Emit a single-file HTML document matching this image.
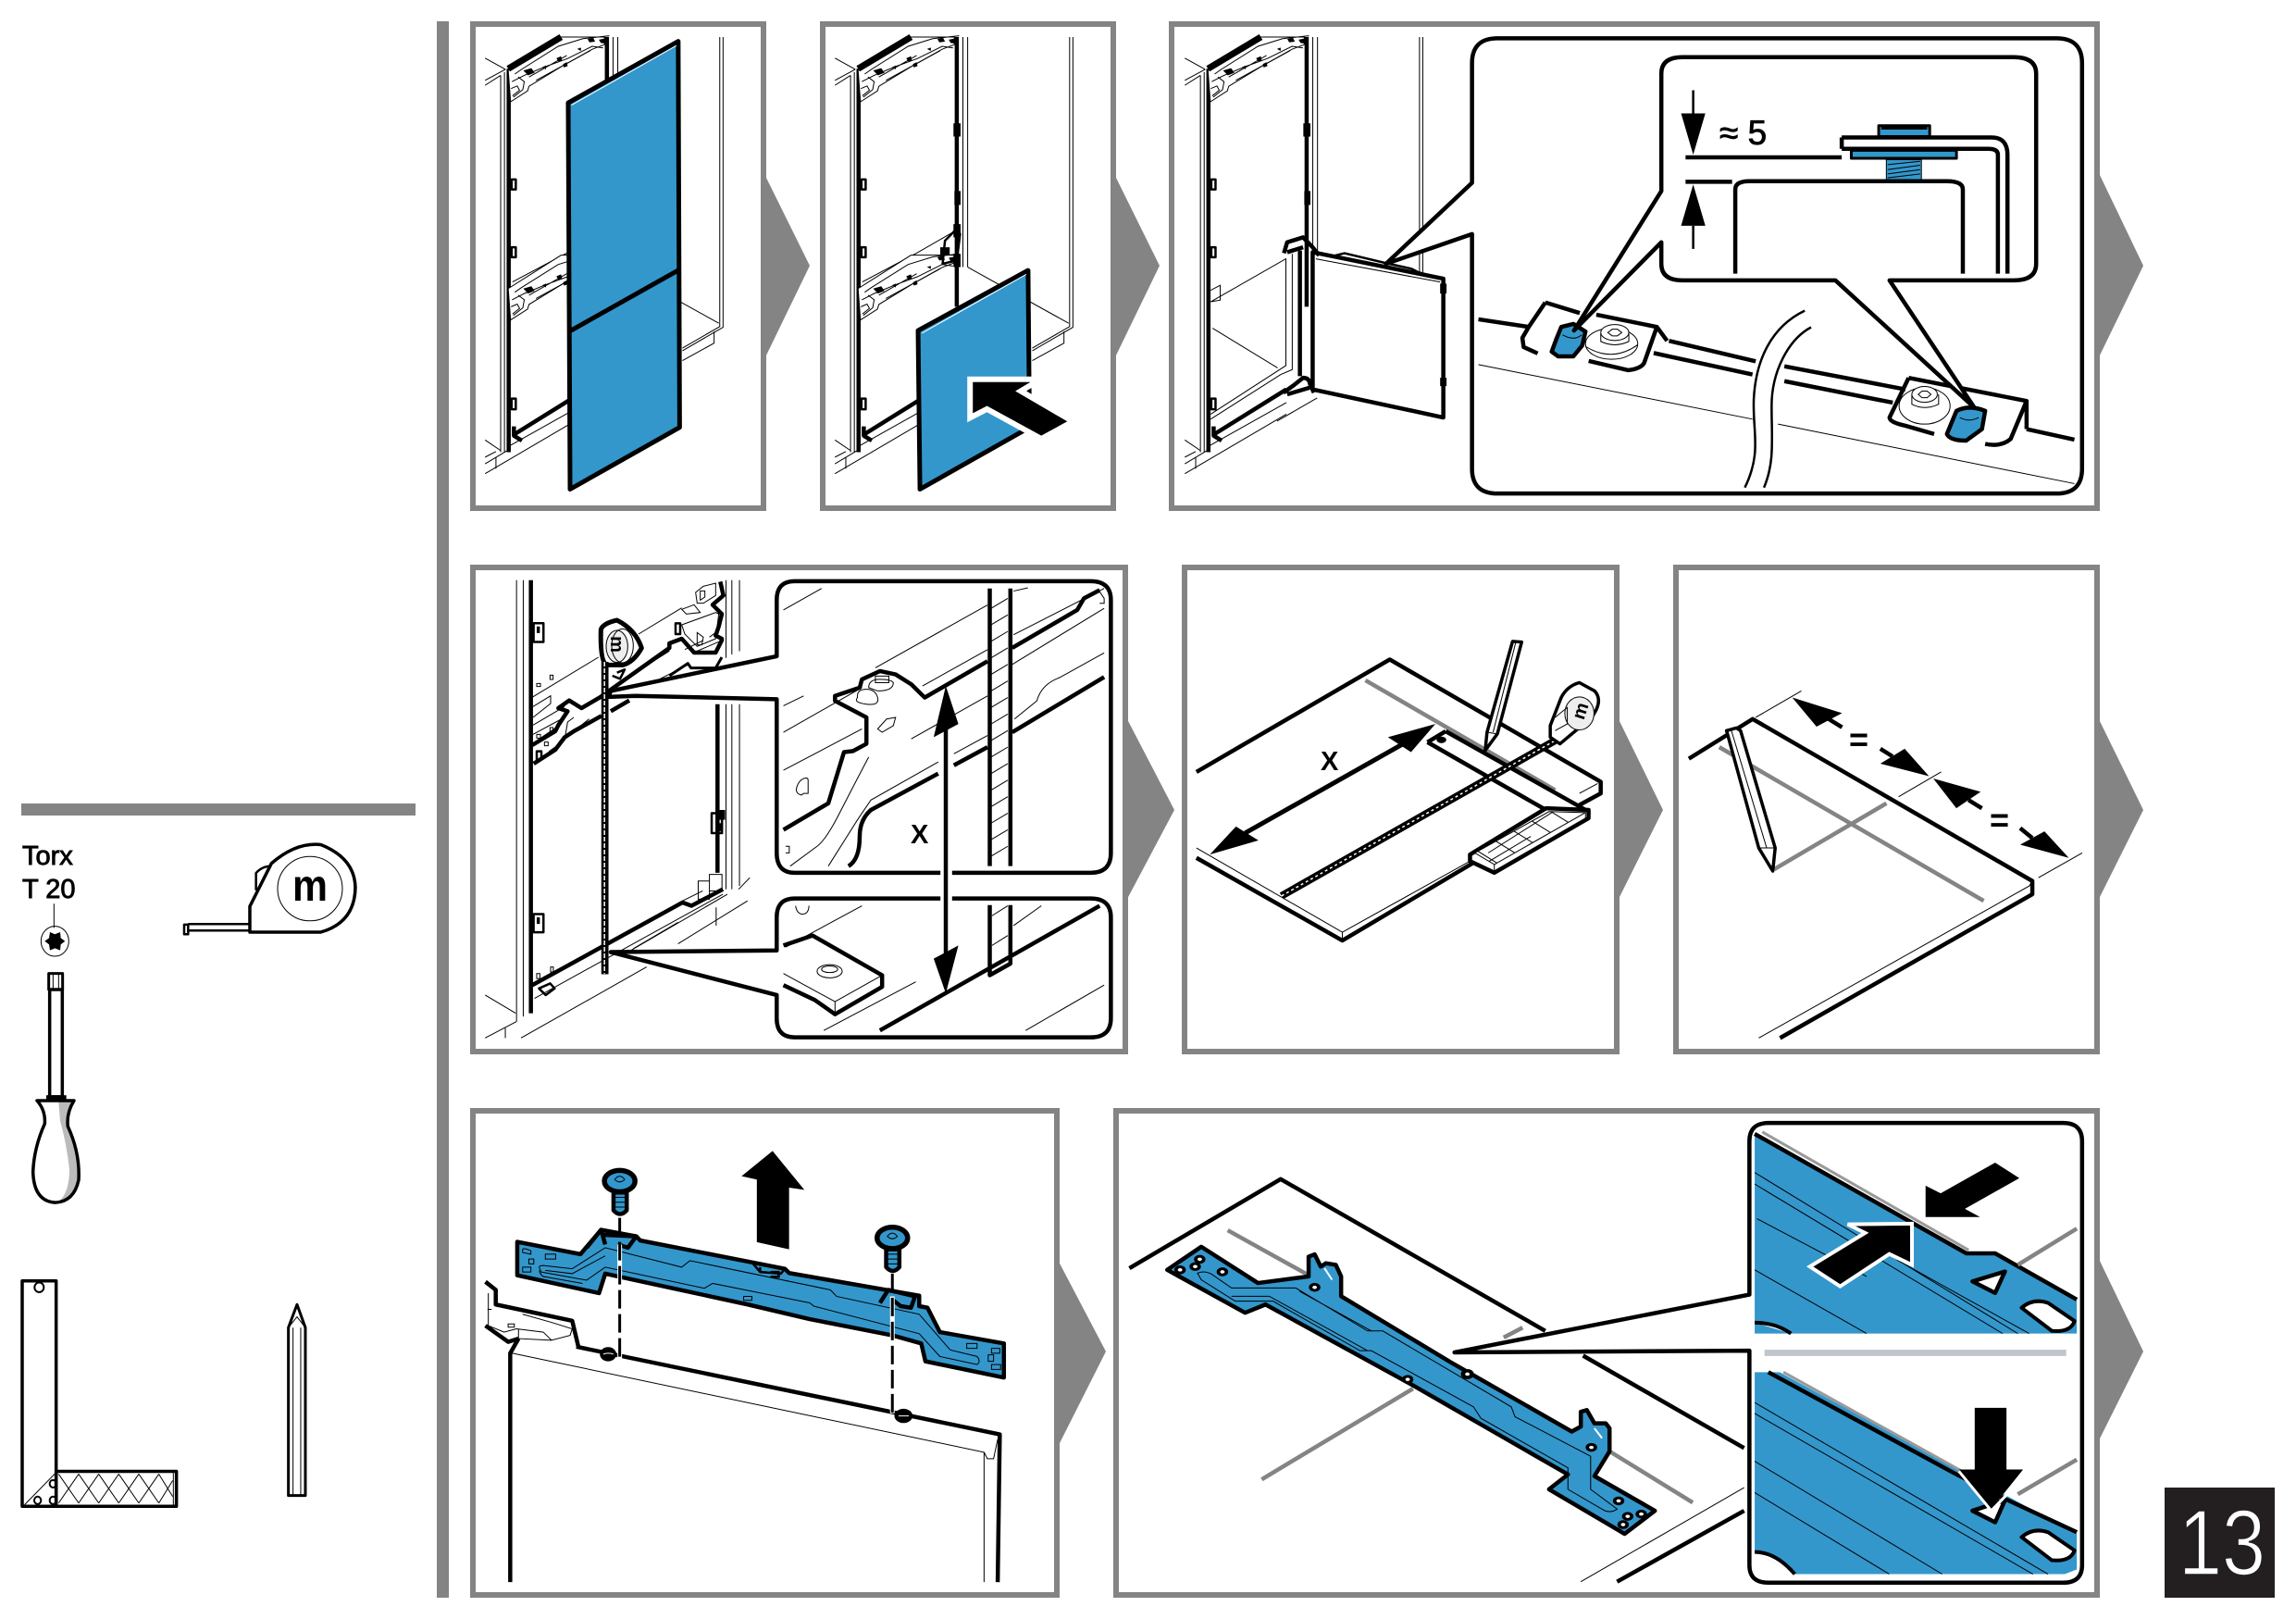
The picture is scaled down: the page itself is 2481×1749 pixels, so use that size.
<!DOCTYPE html>
<html><head><meta charset="utf-8"><style>
html,body{margin:0;padding:0;background:#fff}
svg{display:block}
svg *{vector-effect:non-scaling-stroke}
.k{fill:none;stroke:#000;stroke-width:4.5;stroke-linejoin:round}
.w{fill:#fff;stroke:#000;stroke-width:4.5;stroke-linejoin:round}
.m{fill:none;stroke:#000;stroke-width:2.5;stroke-linejoin:round}
.n{fill:none;stroke:#000;stroke-width:1}
.nw{fill:#fff;stroke:#000;stroke-width:1}
.f{fill:#000}
.b{fill:#3397cc;stroke:#000;stroke-width:4.5;stroke-linejoin:round}
.bn{fill:#3397cc}
.g{fill:none;stroke:#848484;stroke-width:4.5}
.p{fill:#fff;stroke:#848484;stroke-width:6}
.c{fill:#848484}
text{font-family:"Liberation Sans",sans-serif;fill:#000}
</style></head><body>
<svg width="2481" height="1749" viewBox="0 0 2481 1749" xmlns="http://www.w3.org/2000/svg">
<rect width="2481" height="1749" fill="#fff"/>
<rect x="472" y="23" width="13" height="1703" class="c"/>
<rect x="23" y="868" width="426" height="13" class="c"/>

<!-- chevrons -->
<polygon class="c" points="826,188 875,287 826,388"/>
<polygon class="c" points="1204,188 1253,287 1204,388"/>
<polygon class="c" points="2267,185 2316,287 2267,388"/>
<polygon class="c" points="1217,775 1269,875 1217,973"/>
<polygon class="c" points="1748,775 1797,875 1748,973"/>
<polygon class="c" points="2267,775 2316,875 2267,973"/>
<polygon class="c" points="1143,1361 1195,1460 1143,1563"/>
<polygon class="c" points="2267,1358 2316,1460 2267,1558"/>

<!-- panels -->
<rect class="p" x="511" y="26" width="314" height="523"/>
<rect class="p" x="889" y="26" width="314" height="523"/>
<rect class="p" x="1266" y="26" width="1000" height="523"/>
<rect class="p" x="511" y="613" width="705" height="523"/>
<rect class="p" x="1280" y="613" width="467" height="523"/>
<rect class="p" x="1811" y="613" width="455" height="523"/>
<rect class="p" x="511" y="1200" width="631" height="523"/>
<rect class="p" x="1206" y="1200" width="1060" height="523"/>

<!-- panels 1,2,3 fridge, coordinates of zoom 2 -->
<g transform="translate(490,10) scale(.5102,.3571)">
<defs>
<g id="rs">
 <path class="nw" d="M121,280L157,247L160,233L229,173L294,121L320,107V84H228L116,185Z"/>
 <path class="n" d="M130,196L144,182L222,112L274,89L330,80M124,219L150,200L196,173L242,149L294,112L317,117M127,266L147,243L150,219L137,205M122,240L135,232L140,245L125,262M160,205L240,140M175,215L290,125"/>
 <path class="f" d="M148,185L165,178L172,192L158,200ZM218,148L228,142L230,155L222,158ZM232,166L240,160L242,172L234,176ZM188,175L196,170L196,182ZM262,120L270,116L270,126ZM284,90L296,86L300,98L288,100ZM308,92L322,88V104L312,102Z"/>
</g>
<g id="fr">
 <path class="n" d="M100,200V1340M108,190V1340M67,230L100,200M67,215L110,182M67,148L110,182M67,1303L100,1335M67,1375L120,1330M67,1405L282,1225M120,1320L282,1190M90,1355V1390M67,1355L90,1338"/>
 <path class="n" d="M338,84V780M348,84V780M564,84V960L485,1025M571,84V962L485,1033M348,780L562,950M552,975V1010L485,1063"/>
 <path class="k" d="M117,180V1340M325,84V900M130,1285L282,1150"/>
 <use href="#rs"/>
 <path d="M116,180L228,84" fill="none" stroke="#000" stroke-width="7"/>
 <path class="m" d="M123,515H132V545H123ZM123,720H132V750H123ZM123,1178H132V1210H123Z"/>
 <path class="f" d="M318,345H333V385H318ZM320,550H333V592H320Z"/>
 <path class="k" d="M128,1262V1290L145,1305"/>
</g>
<g id="rl">
 <path class="n" d="M125,825L237,740L320,672"/>
 <use href="#rs" transform="translate(0,660)"/>
 <path class="m" d="M300,700Q322,670 325,660L332,680L325,760L295,770Z"/>
 <path class="f" d="M318,650H333V690H318ZM290,720H310V745H290ZM318,740H333V780H318Z"/>
</g>
</defs>
<use href="#fr"/><use href="#rl"/>
<use href="#fr" transform="translate(741,0)"/><use href="#rl" transform="translate(741,0)"/>
<use href="#fr" transform="translate(1482,0)"/>
<!-- panel 1 doors -->
<polygon class="b" points="243,283 476,97 479,1265 247,1452" style="stroke-width:5"/>
<path class="k" d="M245,975L478,788" style="stroke-width:5"/>
<path d="M250,290L472,110" fill="none" stroke="#fff" stroke-width="1"/>
<!-- panel 2 door -->
<polygon class="b" points="984,972 1217,790 1220,1265 988,1452" style="stroke-width:5"/>
<path d="M992,980L1213,802" fill="none" stroke="#fff" stroke-width="1"/>
<polygon points="1100,1128 1100,1222 1130,1200 1245,1290 1300,1247 1190,1155 1222,1128" fill="#fff" stroke="#fff" stroke-width="12"/>
<rect x="1225" y="1100" width="90" height="200" fill="#fff"/>
<polygon class="f" points="1100,1128 1100,1222 1130,1200 1245,1290 1300,1247 1190,1155 1222,1128"/>
</g>

<!-- panel 3 door and insets, zoom 3 coordinates -->
<g transform="translate(1260,10) scale(.6888,.3571)">
<path class="n" d="M70,885L188,755V1078L70,1225M73,965L175,1085M198,740V1090L180,1105L70,1240M174,1246L237,1176M70,850L85,835V880L70,885"/>
<polygon class="w" points="230,735 435,815 435,1235 230,1150"/>
<path class="n" d="M235,755L430,825"/>
<path class="k" d="M210,730V1110"/>
<path class="k" d="M185,738L190,705L215,690L230,720L240,745M190,735L215,720M184,1160L200,1138L215,1115Q225,1115 226,1135L232,1160M190,1165L225,1145"/>
<path class="f" d="M430,830H440V860H430ZM430,1115H440V1140H430Z"/>
<path class="m" d="M265,745L280,738L345,768L385,785L395,795L432,815"/>
<!-- main inset -->
<path class="w" d="M480,525L345,770L480,680V1390Q480,1465 520,1465H1397Q1437,1465 1437,1390V163Q1437,88 1397,88H520Q480,88 480,163Z"/>
<!-- rails -->
<path class="k" d="M490,938L569,961M789,1003L925,1065M970,1080L1160,1150M1350,1270L1425,1302M765,1040L920,1105M970,1125L1140,1190"/>
<path class="n" d="M490,1075L920,1240M960,1255L1425,1435"/>
<path class="m" d="M1002,912C950,960 925,1060 922,1180C920,1280 935,1340 908,1447M1012,962C975,1000 950,1100 950,1200C950,1300 955,1370 938,1447"/>
<!-- left clip -->
<path class="k" d="M595,887L569,961L559,994L561,1022L583,1041M595,887L649,919M675,924L770,961L786,1003M770,961L750,1070Q745,1087 725,1092L663,1064"/>
<ellipse class="nw" cx="699" cy="1012" rx="41" ry="47"/>
<path class="n" d="M658,1020Q700,1070 740,1015M682,980V1005Q704,1025 726,1005V980"/>
<ellipse class="nw" cx="704" cy="978" rx="22" ry="24"/>
<polygon class="nw" points="693,978 700,968 708,968 715,978 708,988 700,988"/>
<path class="b" d="M612,999L620,961L639,952L658,975L653,1017L639,1050L615,1050L605,1036Z"/>
<path class="n" d="M622,985Q640,1005 652,985"/>
<!-- right clip -->
<path class="k" d="M1165,1115L1135,1235Q1135,1250 1160,1260L1205,1285M1165,1115L1350,1185L1325,1300Q1310,1325 1285,1315M1350,1185L1350,1270"/>
<ellipse class="nw" cx="1190" cy="1200" rx="40" ry="55"/>
<path class="n" d="M1170,1165V1195Q1190,1215 1212,1195V1165"/>
<ellipse class="nw" cx="1190" cy="1165" rx="20" ry="24"/>
<polygon class="nw" points="1180,1165 1186,1155 1194,1155 1200,1165 1194,1175 1186,1175"/>
<path class="b" d="M1240,1215Q1260,1195 1285,1215L1280,1270L1255,1305Q1230,1305 1225,1285Z"/>
<path class="n" d="M1245,1235Q1260,1250 1275,1235"/>
<!-- small inset -->
<path class="w" d="M777,550L640,972L777,705V770Q777,820 810,820H1050L1268,1205L1135,820H1330Q1365,820 1365,770V195Q1365,145 1330,145H810Q777,145 777,195Z"/>
<path class="m" d="M827,245V320M827,655V725"/>
<polygon class="f" points="808,315 846,315 827,440"/>
<polygon class="f" points="808,655 846,655 827,530"/>
<path class="k" d="M815,448H1060M815,522H888"/>
<path class="b" d="M1118,385V352H1198V385Z" style="stroke-width:3"/>
<rect x="1122" y="352" width="72" height="12" fill="#000"/>
<path class="k" d="M1060,388H1295Q1320,388 1320,440V800M1060,422H1290Q1305,422 1305,440V800M1060,388V422"/>
<rect class="b" x="1075" y="425" width="165" height="26" style="stroke-width:3"/>
<rect x="1075" y="425" width="165" height="6" fill="#000"/>
<rect class="bn" x="1130" y="455" width="55" height="62" stroke="#000" stroke-width="1"/>
<path class="n" d="M1132,470L1183,460M1132,485L1183,472M1132,498L1183,485M1132,510L1183,498"/>
<path class="k" d="M893,800V545Q893,520 915,520H1225Q1250,520 1250,545V800"/>
</g>
<text x="1858" y="156" font-size="37" stroke="#000" stroke-width=".8">≈ 5</text>

<!-- panel 4, zoom 4 coordinates -->
<g transform="translate(500,600) scale(.4847,.3571)">
<path class="n" d="M120,75V1410M135,75V1395M587,75V310M600,75V300M617,75V290M587,450V1010M600,450V1010M617,450V1000"/>
<path class="k" d="M152,75V1385M568,450V960"/>
<path class="m" d="M158,1085H180V1140H158ZM555,780H578V840H555ZM158,205H180V262H158Z"/>
<path class="f" d="M165,215H172V235H165ZM165,1095H172V1115H165ZM565,770H585V800H565ZM565,810H580V835H565Z"/>
<path class="k" d="M155,1300L490,1050L510,1060L580,1010"/>
<path class="n" d="M525,985H550V1040H525ZM550,965H578V1015H550ZM490,1045L535,1015"/>
<path class="n" d="M160,1340L580,1025M130,1460L410,1245M50,1330L118,1385M50,1460L120,1410M95,1430V1460M380,1190L480,1110M480,1175L635,1045M565,1065V1120M615,1010L640,975M375,1195L590,1025M165,1265H172V1280H165ZM196,1245H202V1260H196Z"/>
<path class="m" d="M170,1310L195,1295L205,1310L185,1330Z"/>
</g>
<!-- P4 detail, true 3x coords -->
<g transform="translate(560,620) scale(.33333)">
<path class="n" d="M45,400L260,270M390,195L530,110M48,430L105,395V420L48,465M48,520L150,465M60,540L135,490M48,490L150,430M100,575L150,540L160,480L180,465M180,510L230,470M300,370L490,250"/>
<path class="n" d="M60,355H72V365H60ZM103,328H113V342H103ZM60,520H72V532H60ZM103,498H113V512H103ZM85,545H97V557H85Z"/>
<path class="n" d="M575,60L600,40L640,30V70L600,95H580ZM590,55V85L605,75V55ZM530,115L570,100L590,125L545,130ZM530,165L640,125L650,130L640,210L580,235L540,195ZM580,190V230H595L600,205ZM620,205L640,190V210M540,245L600,215M580,250L650,220"/>
<path class="m" d="M510,160H525V195H510Z"/>
<path class="k" d="M45,555L120,510L130,490L160,445L130,435L165,410L205,435L265,400L490,240V225L530,210L570,255L640,255L660,215V210L640,200L650,170L660,130L630,100L665,70L655,25"/>
<path class="k" d="M50,615L120,570L150,530L180,510L270,460M300,445L360,410"/>
<path class="k" d="M490,330L550,290L560,305L640,305L660,270" style="stroke-width:3"/>
<path class="m" d="M60,575H75V600L60,610Z"/>
<path class="n" d="M460,340L550,295"/>
<path class="m" d="M320,320L345,310L330,340L305,330"/>
<path class="k" d="M268,180Q275,160 320,150Q380,180 400,240Q375,285 340,295H285Q265,280 268,180Z" style="stroke-width:5;fill:#fff"/>
<ellipse cx="320" cy="235" rx="35" ry="52" fill="#eee" stroke="#000" stroke-width="1"/>
<ellipse cx="338" cy="233" rx="35" ry="55" fill="none" stroke="#000" stroke-width="1"/>
<rect x="268" y="295" width="27" height="2560" fill="#000" style="display:none"/>
</g>
<g transform="translate(500,600) scale(.4847,.3571)">
<rect x="309" y="322" width="16" height="945" fill="#000"/>
<path d="M316,322V1265" fill="none" stroke="#fff" stroke-width="1.5" stroke-dasharray="5 2"/>
<!-- upper inset -->
<path class="w" d="M700,305L330,410L325,428L385,425L700,435V900Q700,960 740,960H1400Q1445,960 1445,900V135Q1445,78 1400,78H740Q700,78 700,135Z"/>
<path class="n" d="M715,165L800,100M715,455L760,425M1025,395L1170,285M1228,240L1430,100M715,535L890,400M715,650L890,525M905,610Q870,700 840,780T790,880L730,940M815,940L880,800L910,740L1060,625M1230,495L1280,440Q1290,390 1330,370L1430,295M1225,330L1430,160M920,340L1170,150M1228,108L1260,98M1095,600L1170,545M1000,555L1170,425M760,720H770V680Q770,670 760,675T745,700T755,725ZM925,525L945,495L965,490L960,515L935,535ZM720,880H728V900H720M1420,110L1430,130V145L1420,145"/>
<path class="k" d="M715,830L815,750L850,595L870,592L900,570V490L830,440V425L885,400L890,375L930,350L965,360L1000,390L1030,430L1170,320M1225,280L1370,165L1385,130L1420,105M860,940Q885,920 885,850Q885,800 910,770L1060,660M1095,635L1170,580M1225,535L1430,368"/>
<path class="n" d="M905,400Q905,375 930,375T960,385Q960,410 925,410ZM880,425Q880,405 900,405T925,430T900,450T880,430ZM920,365H950V385H920Z"/>
<path class="k" d="M1175,100V940M1221,100V940"/>
<path class="n" d="M1178,160L1215,130M1178,210L1215,180M1178,260L1215,230M1178,310L1215,280M1178,360L1215,330M1178,410L1215,380M1178,460L1215,430M1178,510L1215,480M1178,560L1215,530M1178,610L1215,580M1178,660L1215,630M1178,710L1215,680M1178,760L1215,730M1178,810L1215,780M1178,860L1215,830M1178,910L1215,880"/>
<!-- lower inset -->
<path class="w" d="M700,1195L330,1200L700,1330V1400Q700,1458 740,1458H1400Q1445,1458 1445,1400V1095Q1445,1038 1400,1038H740Q700,1038 700,1095Z"/>
<path class="k" d="M1175,1058V1270L1221,1235V1058M930,1437L1420,1060M715,1180L780,1150L935,1270V1305L830,1388L785,1345L715,1300"/>
<path class="n" d="M715,1265L830,1350L935,1270M830,1350V1388M720,1185L890,1060M805,1437L1010,1290M1255,1437L1430,1300M1180,1090L1215,1060M1180,1180L1215,1150M1228,1120L1290,1060M742,1060Q745,1085 758,1085T772,1060"/>
<ellipse class="n" cx="818" cy="1258" rx="28" ry="20"/>
<ellipse class="n" cx="818" cy="1252" rx="18" ry="10"/>
<!-- arrow X -->
<rect x="1065" y="930" width="26" height="60" fill="#fff"/>
<rect x="1065" y="1020" width="26" height="40" fill="#fff"/>
<path class="k" d="M1077,520V1220"/>
<polygon class="f" points="1050,550 1105,510 1077,395"/>
<polygon class="f" points="1050,1220 1105,1180 1077,1325"/>
</g>
<text x="984" y="911" font-size="29" font-weight="bold">X</text>
<text font-size="20" font-weight="bold" text-anchor="middle" transform="translate(660,696) rotate(90)">m</text>

<!-- panels 5,6 zoom 5 coordinates -->
<g transform="translate(1260,600) scale(.6569,.3571)">
<defs><clipPath id="hc"><polygon points="508,900 630,775 690,778 540,935"/></clipPath></defs>
<path class="k" d="M50,655L368,315L715,685V720L680,755M50,915L290,1165L510,925"/>
<path class="n" d="M50,885L290,1140L500,925M290,1140V1165M680,720L710,690"/>
<path class="g" d="M328,378L640,710"/>
<path class="k" d="M430,565L625,770M430,565L460,532M460,532L690,770"/>
<ellipse cx="453" cy="558" rx="8" ry="10" fill="#000"/>
<path class="k" d="M130,840L390,570" style="stroke-width:5"/>
<polygon class="f" points="443,510 365,550 403,595"/>
<polygon class="f" points="72,905 115,820 152,862"/>
<!-- pencil -->
<polygon class="w" points="570,260 585,262 545,540 525,590 528,535" style="stroke-width:3.5"/>
<path class="n" d="M528,535L545,540M575,265L538,535"/>
<!-- tape -->
<path d="M190,1030L640,560" fill="none" stroke="#000" stroke-width="8"/>
<path d="M190,1030L640,560" fill="none" stroke="#fff" stroke-width="1.5" stroke-dasharray="3 3"/>
<path class="w" d="M632,525V550L648,570L700,490Q720,440 705,410L680,385Q660,395 650,430L632,515Z" style="stroke-width:3.5"/>
<ellipse cx="680" cy="478" rx="24" ry="50" fill="#eee" stroke="#000" stroke-width="1"/>
<path class="n" d="M640,490L660,460V510L640,530"/>
<!-- square handle -->
<polygon class="w" points="500,905 625,765 695,770 695,795 540,960 500,925"/>
<polygon class="nw" points="508,900 630,775 690,778 540,935"/>
<path class="n" d="M540,935V955M690,778V795"/>
<g clip-path="url(#hc)"><path class="n" d="M500,880L570,960M530,850L600,930M560,820L630,900M590,790L660,870M620,760L690,840M500,960L600,850M540,960L640,850M580,960L680,850M620,760L510,880M650,760L530,900"/></g>
<!-- panel 6 -->
<path class="k" d="M860,615L965,495L1425,985V1025L1010,1460"/>
<path class="n" d="M975,1460L1420,1000L1425,985M970,490L1045,410M1205,730L1275,655M1435,975L1507,900"/>
<path class="g" d="M910,580L1345,1045M1000,950L1185,750"/>
<polygon class="w" points="922,530 938,522 945,530 1002,885 998,955 975,885" style="stroke-width:3.5"/>
<path class="n" d="M930,530L988,885M975,885L1002,885"/>
<polygon class="f" points="1030,430 1070,518 1112,477"/>
<path class="k" d="M1090,495L1112,520"/>
<polygon class="f" points="1255,668 1175,630 1215,585"/>
<path class="k" d="M1195,608L1175,585"/>
<polygon class="f" points="1262,675 1300,765 1340,715"/>
<path class="k" d="M1320,740L1342,765"/>
<polygon class="f" points="1485,915 1405,875 1445,835"/>
<path class="k" d="M1425,855L1405,825"/>
</g>
<text x="1427" y="832" font-size="29" font-weight="bold">X</text>
<text font-size="20" font-weight="bold" text-anchor="middle" transform="translate(1714,770) rotate(-72)">m</text>
<text x="1998" y="811" font-size="36" font-weight="bold">=</text>
<text x="2150" y="898" font-size="36" font-weight="bold">=</text>

<!-- panel 7 zoom 6 coordinates -->
<g transform="translate(500,1190) scale(.4464,.3508)">
<polygon class="f" points="750,152 827,272 790,265 790,455 712,433 712,240 675,230"/>
<path class="b" d="M132,432L285,470L335,395L420,415L430,428L700,495L780,515L790,528L1105,598V630L1125,635L1155,710L1310,745V850L1120,800L1110,745L1040,720L840,670L690,625L345,530L330,590L132,535Z"/>
<path class="n" d="M185,510Q185,505 195,505L265,515L345,450L530,510L550,490L890,580L905,600L1105,655L1180,765L1245,785Q1255,800 1245,810L1155,785L1105,715L850,630L840,620L605,560L585,575L345,510L300,550L190,525Z"/>
<path class="n" d="M200,520L265,530L345,475M185,520Q190,540 200,540L290,560"/>
<path class="n" d="M145,455Q150,450 165,460L165,470L145,465ZM200,470H225V485H200ZM160,485H172V500H160ZM145,510H165V525H145ZM1220,745H1245V760H1220ZM1280,760H1300V775H1280ZM1272,780H1285V800H1272ZM1280,810H1302V825H1280ZM680,600H700V612H680Z"/>
<path class="k" d="M300,450L335,395L345,440M335,410L420,415L400,450L375,440M1010,620L1030,580L1095,600L1085,635L1060,630L1040,610"/>
<path class="m" d="M700,495L720,525L770,530L780,515M745,525H765V540H745M720,510V525"/>
<!-- door -->
<path class="k" d="M115,1480V775L135,730M275,755L1300,1025L1295,1480"/>
<path class="n" d="M120,775L1262,1080V1480M1262,1080L1270,1100H1285L1295,1040"/>
<path class="k" d="M55,555L80,580V625L265,675L280,755M55,690L110,740L135,730"/>
<path class="n" d="M62,590V690L100,710L130,700L195,710L215,735L260,720L265,700L215,680L145,655M135,700V730L215,735M70,640H60M110,685H125V695H110Z"/>
<ellipse cx="352" cy="778" rx="20" ry="22" fill="#000"/>
<ellipse cx="1067" cy="968" rx="22" ry="22" fill="#000"/>
<path d="M340,778Q352,772 365,778M1055,968H1080" fill="none" stroke="#fff" stroke-width="1"/>
<!-- screws -->
<path class="b" d="M365,280V335Q381,358 397,335V280Z"/>
<ellipse class="b" cx="380" cy="245" rx="37" ry="33" style="stroke-width:5.5"/>
<path class="n" d="M368,240Q380,220 392,240Q380,255 368,240ZM368,295H394M368,310H394M368,325H394"/>
<path class="b" d="M1025,455V510Q1041,533 1057,510V455Z"/>
<ellipse class="b" cx="1040" cy="420" rx="37" ry="33" style="stroke-width:5.5"/>
<path class="n" d="M1028,415Q1040,395 1052,415Q1040,430 1028,415ZM1028,470H1054M1028,485H1054M1028,500H1054"/>
<!-- dashed -->
<path d="M380,440V800" fill="none" stroke="#fff" stroke-width="5"/>
<path d="M1040,600V960" fill="none" stroke="#fff" stroke-width="5"/>
<path d="M380,358V800M1040,530V960" fill="none" stroke="#000" stroke-width="3" stroke-dasharray="20 6"/>
</g>

<!-- panel 8 zoom 7 coordinates -->
<g transform="translate(1200,1190) scale(.817,.3565)">
<path class="k" d="M25,505L225,235L575,695M625,770L838,1050M670,1455L838,1240"/>
<path class="n" d="M622,1455L838,1170"/>
<path class="g" d="M155,390L265,530M200,1145L400,870M520,715L545,685M660,1060L770,1215"/>
<path class="b" d="M120,440L195,550L245,535L262,530V470L270,463L278,500L285,490L298,495L305,530V590L450,790L610,1000L622,985V940L630,935L640,975L655,975L660,990V1060L640,1135L720,1240L680,1310L580,1175L605,1130L400,860L205,615L178,640L75,510Z"/>
<path class="n" d="M115,520Q125,510 135,525L160,565H245L340,695H360L530,925L535,955L635,1075V1175L670,1235Q660,1250 650,1235L605,1175V1110L490,960L480,925L345,755H330L215,605H165L120,540ZM160,590H210L340,755M250,575L345,695"/>
<g fill="#000" stroke="#000" stroke-width="1">
<ellipse cx="118" cy="478" rx="7" ry="12"/><ellipse cx="112" cy="500" rx="7" ry="12"/><ellipse cx="92" cy="510" rx="7" ry="12"/><ellipse cx="148" cy="516" rx="7" ry="12"/><ellipse cx="270" cy="563" rx="7" ry="12"/><ellipse cx="393" cy="842" rx="7" ry="12"/><ellipse cx="472" cy="826" rx="8" ry="14"/><ellipse cx="636" cy="1048" rx="7" ry="12"/><ellipse cx="672" cy="1210" rx="7" ry="12"/><ellipse cx="684" cy="1257" rx="7" ry="12"/><ellipse cx="702" cy="1250" rx="7" ry="12"/><ellipse cx="678" cy="1282" rx="7" ry="12"/>
</g>
<g fill="#fff">
<ellipse cx="118" cy="478" rx="3" ry="5"/><ellipse cx="112" cy="500" rx="3" ry="5"/><ellipse cx="92" cy="510" rx="3" ry="5"/><ellipse cx="148" cy="516" rx="3" ry="5"/><ellipse cx="270" cy="563" rx="3" ry="5"/><ellipse cx="393" cy="842" rx="3" ry="5"/><ellipse cx="472" cy="826" rx="3" ry="5"/><ellipse cx="636" cy="1048" rx="3" ry="5"/><ellipse cx="672" cy="1210" rx="3" ry="5"/><ellipse cx="684" cy="1257" rx="3" ry="5"/><ellipse cx="702" cy="1250" rx="3" ry="5"/><ellipse cx="678" cy="1282" rx="3" ry="5"/>
</g>
<path d="M283,505L293,540M640,990L650,1020" fill="none" stroke="#fff" stroke-width="2"/>
<!-- callout -->
<path class="w" d="M845,585L455,760L845,755V1405Q845,1458 870,1458H1260Q1285,1458 1285,1405V120Q1285,65 1260,65H870Q845,65 845,120Z"/>
<rect x="850" y="700" width="430" height="50" fill="#fff"/>
<rect x="865" y="752" width="399" height="19" fill="#c0c4cc"/>
<!-- top blue -->
<polygon class="bn" points="852,95 1135,460 1170,460 1278,605 1278,703 852,703"/>
<path d="M862,92L1135,450" fill="none" stroke="#9a9a9a" stroke-width="3"/>
<path class="k" d="M852,98L1132,460H1170L1278,600"/>
<path class="g" d="M1200,495L1278,385"/>
<path class="n" d="M852,215L1200,703M852,250L1180,703M852,510L1000,703M855,355L1000,530M1040,480L1215,703"/>
<polygon class="w" points="1140,545 1183,515 1170,580"/>
<path d="M1205,625Q1220,595 1240,610L1275,665Q1270,700 1245,695Z" class="w" style="stroke-width:4"/>
<path d="M852,670Q880,670 900,703" class="w" style="fill:#fff;stroke-width:4"/>
<polygon class="f" points="1170,185 1202,232 1130,325 1150,350 1078,350 1078,255 1098,278"/>
<polygon points="1060,370 975,372 998,398 925,500 965,560 1030,462 1060,495" fill="#000" stroke="#fff" stroke-width="4"/>
<!-- bottom blue -->
<polygon class="bn" points="852,820 885,820 1278,1310 1278,1418 1262,1432 905,1432 852,1365"/>
<path d="M890,820L1130,1125" fill="none" stroke="#9a9a9a" stroke-width="3"/>
<path class="k" d="M870,820L1115,1125L1170,1190L1278,1305"/>
<path class="g" d="M1200,1190L1278,1085"/>
<path class="n" d="M852,912L1240,1432M852,945L1220,1432M852,1185L1030,1432M852,1090L1100,1432"/>
<polygon class="w" points="1140,1240 1183,1208 1170,1275"/>
<path d="M1205,1320Q1220,1290 1240,1305L1275,1360Q1270,1395 1245,1390Z" class="w" style="stroke-width:4"/>
<path d="M852,1365Q880,1365 905,1432" class="w" style="fill:#fff;stroke-width:4"/>
<polygon points="1122,1115 1143,1115 1143,928 1185,928 1185,1115 1207,1115 1165,1235" fill="#000"/>
<path d="M1122,1120L1165,1240L1190,1180" fill="none" stroke="#fff" stroke-width="3"/>
</g>

<!-- page number -->
<rect x="2339" y="1607" width="119" height="119" fill="#231f20"/>
<text x="2354" y="1701" font-size="100" textLength="94" lengthAdjust="spacingAndGlyphs" style="fill:#fff;stroke:#231f20;stroke-width:1.6">13</text>

<!-- tools, zoom 1 coordinates -->
<text x="24" y="934" font-size="29" stroke="#000" stroke-width=".9">Torx</text>
<text x="24" y="970" font-size="29" stroke="#000" stroke-width=".9">T 20</text>
<g transform="translate(0,840) scale(.3333,.5797)">
<path class="n" d="M175,235V280"/>
<ellipse class="n" cx="178" cy="305" rx="45" ry="28"/>
<polygon class="f" points="211,305 197,311 195,322 178,318 162,322 159,311 145,305 159,299 162,288 178,292 195,288 197,299"/>
<rect class="k" x="158" y="365" width="45" height="30" style="stroke-width:3"/>
<path class="n" d="M172,365V395M190,365V395"/>
<rect class="k" x="161" y="395" width="41" height="200" style="stroke-width:3.5"/>
<rect class="f" x="150" y="592" width="65" height="8"/>
<path d="M190,605L240,602Q215,625 220,650Q260,700 255,750Q240,785 195,788Q225,770 225,730Q215,680 195,640Z" fill="#bbb"/>
<path class="k" d="M120,602H240Q215,625 220,650Q260,700 255,750Q240,790 180,792Q110,790 107,735Q110,690 145,645Q148,620 120,602Z" style="stroke-width:3.5"/>
<path class="k" d="M810,240L880,160Q960,120 1040,125Q1150,150 1152,205Q1150,270 1040,288H810Z" style="stroke-width:3.5"/>
<path class="m" d="M830,210V178Q850,165 880,165"/>
<ellipse class="n" cx="1005" cy="207" rx="105" ry="60"/>
<path class="m" d="M610,273H810M610,285H810"/>
<rect class="k" x="597" y="274" width="13" height="18" style="stroke-width:2.5"/>
<!-- square -->
<rect class="k" x="72" y="938" width="110" height="420" style="stroke-width:3.5"/>
<rect class="k" x="182" y="1293" width="390" height="65" style="stroke-width:3.5"/>
<path class="n" d="M80,1355L182,1295M562,1296V1355"/>
<path class="n" d="M190,1298L255,1352M255,1298L190,1352M255,1298L320,1352M320,1298L255,1352M320,1298L385,1352M385,1298L320,1352M385,1298L450,1352M450,1298L385,1352M450,1298L515,1352M515,1298L450,1352M515,1298L560,1340M560,1310L515,1352"/>
<ellipse class="m" cx="127" cy="950" rx="15" ry="9" style="stroke-width:2"/>
<ellipse class="m" cx="172" cy="1316" rx="11" ry="7" style="stroke-width:2"/>
<ellipse class="m" cx="122" cy="1347" rx="11" ry="7" style="stroke-width:2"/>
<ellipse class="m" cx="172" cy="1347" rx="11" ry="7" style="stroke-width:2"/>
<!-- pencil -->
<path class="k" d="M935,1338V1025L963,982L990,1025V1338Z" style="stroke-width:3"/>
<path class="n" d="M950,1025V1338M975,1025V1338M935,1025L963,1005L990,1025"/>
</g>
<text x="335" y="973" font-size="48" font-weight="bold" text-anchor="middle" textLength="38" lengthAdjust="spacingAndGlyphs">m</text>
</svg>
</body></html>
